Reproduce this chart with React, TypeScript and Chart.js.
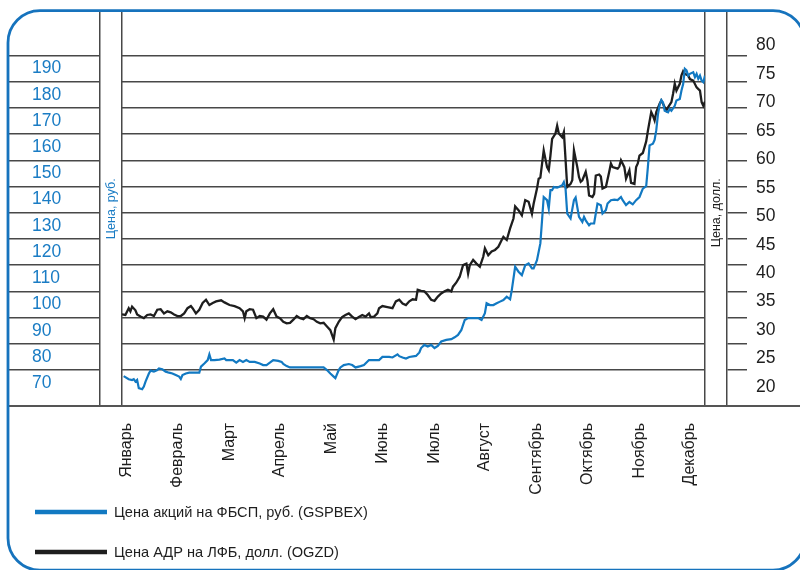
import React, { useEffect, useRef } from 'react';
import { Chart, registerables } from 'chart.js';

Chart.register(...registerables);

// ---------- data ----------
const months = ['Январь', 'Февраль', 'Март', 'Апрель', 'Май', 'Июнь', 'Июль', 'Август', 'Сентябрь', 'Октябрь', 'Ноябрь', 'Декабрь'];
// day-of-year at which each month label is placed
const monthTickDays = [3, 33, 64, 94, 125, 155, 186, 216, 247, 277, 308, 338];

const rubTicks = [190, 180, 170, 160, 150, 140, 130, 120, 110, 100, 90, 80, 70];
const usdTicks = [80, 75, 70, 65, 60, 55, 50, 45, 40, 35, 30, 25, 20];

const seriesLabels = ['Цена акций на ФБСП, руб. (GSPBEX)', 'Цена АДР на ЛФБ, долл. (OGZD)'];
const axisTitles = ['Цена, руб.', 'Цена, долл.'];

// GSPBEX, roubles
const gspbexDays = [1, 4, 6, 7, 8, 9, 10, 12, 13, 14, 16, 17, 19, 21, 22, 24, 26, 28, 30, 32, 34, 35, 36, 38, 40, 43, 46, 47, 49, 51, 52, 53, 55, 58, 61, 62, 66, 68, 70, 72, 74, 76, 79, 82, 84, 86, 88, 90, 93, 95, 96, 98, 100, 104, 112, 120, 122, 124, 126, 127, 129, 130, 132, 135, 137, 139, 142, 144, 147, 150, 153, 155, 159, 161, 164, 165, 167, 169, 171, 175, 177, 178, 180, 182, 184, 186, 188, 190, 193, 196, 198, 200, 202, 204, 206, 209, 212, 214, 216, 217, 219, 221, 223, 225, 227, 229, 231, 232, 234, 236, 238, 240, 242, 244, 245, 247, 249, 250, 251, 253, 254, 255, 256, 257, 259, 260, 262, 263, 264, 265, 267, 269, 270, 272, 274, 275, 276, 278, 279, 281, 282, 283, 285, 286, 288, 289, 291, 293, 295, 297, 298, 300, 302, 304, 306, 308, 310, 312, 313, 314, 316, 317, 318, 319, 320, 321, 322, 323, 325, 326, 327, 329, 330, 332, 333, 334, 335, 336, 337, 338, 340, 341, 342, 343, 344, 345, 346, 347];
const gspbexRub = [72.7, 71.5, 71.2, 71.5, 70.6, 71.2, 68.1, 67.7, 68.7, 70.6, 73.7, 74.8, 74.4, 75.0, 75.6, 75.3, 74.4, 74.0, 73.7, 73.1, 72.5, 71.6, 73.1, 73.7, 74.0, 74.0, 74.0, 76.3, 77.5, 78.8, 81.0, 78.8, 78.8, 79.0, 79.4, 78.8, 78.8, 77.8, 78.8, 78.1, 78.8, 78.1, 78.1, 77.5, 76.9, 76.9, 77.8, 78.8, 78.5, 78.1, 77.3, 76.5, 76.0, 76.0, 76.0, 76.0, 75.0, 73.7, 72.5, 71.9, 75.0, 76.0, 76.9, 77.3, 76.9, 76.0, 76.5, 76.9, 78.8, 78.8, 78.8, 80.0, 80.0, 79.8, 81.0, 80.3, 79.8, 79.4, 80.0, 80.4, 81.7, 83.4, 84.6, 84.0, 84.6, 83.4, 84.2, 85.9, 86.5, 86.8, 87.5, 88.4, 90.3, 94.1, 94.8, 94.8, 94.8, 94.1, 96.7, 100.5, 99.8, 99.8, 100.5, 101.1, 101.7, 103.0, 102.0, 105.5, 114.4, 112.5, 111.2, 115.0, 115.7, 113.8, 113.8, 116.9, 123.3, 132.1, 141.0, 139.8, 136.6, 143.6, 143.6, 144.8, 144.6, 144.8, 145.5, 146.7, 144.2, 134.7, 132.8, 139.8, 140.8, 133.4, 131.5, 133.4, 132.1, 130.2, 130.9, 130.9, 134.7, 138.5, 137.9, 134.7, 136.0, 138.5, 139.8, 140.0, 139.8, 141.0, 139.8, 137.9, 139.1, 138.2, 139.8, 141.0, 144.2, 145.1, 152.4, 160.7, 161.3, 162.8, 166.5, 172.5, 176.2, 178.0, 177.1, 173.9, 173.3, 174.6, 173.9, 175.8, 177.8, 178.4, 181.6, 184.1, 189.9, 189.3, 187.3, 188.0, 188.6, 186.7, 188.0, 186.1, 187.3, 185.4, 184.8, 187.3];

// OGZD, dollars
const ogzdDays = [0, 2, 4, 5, 6, 8, 9, 11, 13, 15, 17, 19, 21, 23, 25, 27, 29, 31, 33, 35, 37, 39, 41, 42, 44, 46, 48, 50, 52, 54, 56, 59, 61, 64, 67, 70, 72, 73, 74, 76, 78, 80, 82, 84, 86, 88, 90, 92, 94, 96, 98, 100, 102, 104, 106, 108, 110, 112, 114, 116, 118, 120, 122, 124, 125, 126, 127, 129, 131, 133, 135, 137, 139, 141, 143, 145, 147, 148, 150, 152, 153, 155, 158, 161, 163, 165, 167, 169, 171, 173, 175, 176, 178, 180, 182, 184, 186, 188, 190, 192, 194, 196, 197, 199, 201, 203, 205, 206, 207, 209, 211, 213, 215, 216, 218, 220, 222, 224, 226, 227, 229, 231, 233, 234, 236, 238, 240, 242, 244, 245, 247, 248, 249, 251, 253, 254, 255, 256, 258, 259, 260, 262, 263, 265, 267, 268, 269, 271, 272, 273, 274, 276, 277, 278, 280, 281, 282, 284, 285, 286, 288, 290, 291, 292, 295, 296, 297, 299, 300, 302, 303, 305, 306, 307, 308, 310, 312, 313, 315, 316, 317, 318, 320, 321, 322, 324, 325, 327, 328, 329, 330, 332, 333, 334, 335, 337, 338, 340, 342, 344, 345, 346, 347];
const ogzdUsd = [30.6, 30.5, 31.8, 31.2, 32.1, 31.4, 30.6, 30.2, 29.9, 30.5, 30.6, 30.3, 31.5, 31.6, 30.8, 31.2, 31.0, 30.6, 30.3, 30.3, 30.8, 31.8, 32.2, 31.8, 30.8, 31.5, 32.8, 33.4, 32.4, 32.8, 33.1, 33.3, 32.9, 32.4, 32.2, 31.8, 31.2, 29.9, 31.2, 31.6, 31.5, 29.9, 30.3, 30.2, 29.6, 30.8, 31.6, 30.2, 29.9, 29.2, 28.9, 29.0, 29.6, 30.3, 29.9, 29.7, 30.3, 29.9, 29.7, 29.2, 28.9, 29.0, 28.3, 27.6, 26.7, 25.8, 28.0, 29.2, 30.1, 30.5, 30.8, 30.2, 29.7, 30.1, 30.5, 30.2, 30.8, 30.1, 30.2, 30.8, 31.8, 32.2, 32.0, 31.8, 33.1, 33.4, 32.7, 32.4, 33.1, 33.5, 33.4, 35.3, 35.1, 35.0, 34.3, 33.4, 33.2, 34.0, 34.6, 35.0, 35.3, 35.0, 35.9, 36.7, 37.8, 40.0, 40.3, 38.4, 40.0, 41.0, 40.3, 39.7, 41.6, 43.2, 41.9, 42.6, 42.9, 43.5, 44.8, 45.4, 44.8, 47.0, 48.9, 51.2, 50.5, 49.5, 52.4, 52.1, 49.8, 51.7, 54.6, 56.5, 56.7, 61.9, 58.7, 58.1, 60.9, 64.1, 65.1, 66.6, 65.1, 64.4, 65.4, 54.9, 55.5, 56.2, 61.9, 58.7, 56.8, 55.9, 56.2, 57.8, 56.2, 53.3, 53.0, 53.6, 57.1, 57.3, 56.9, 54.6, 54.9, 57.8, 59.4, 58.7, 58.4, 58.8, 60.0, 58.7, 56.5, 58.1, 55.7, 55.5, 58.7, 59.4, 60.9, 61.4, 63.6, 65.6, 69.2, 68.5, 67.6, 69.2, 70.8, 71.4, 70.8, 69.5, 70.1, 71.1, 72.7, 74.6, 73.3, 74.6, 76.2, 77.0, 76.5, 76.2, 75.5, 75.2, 73.9, 73.3, 71.1, 70.4, 71.2];

// ---------- style ----------
const FONT = "'Liberation Sans', Arial, sans-serif";
const BLUE = '#1279c2';
const BLUE_TEXT = '#1a7cc4';
const FRAME = '#1673bd';
const DARK = '#1e1e1e';
const GRID = '#484848';

const alignPx = (v: number, w: number) => Math.round(v - w / 2) + w / 2;

const decor = {
  id: 'decor',
  afterDraw(chart: any) {
    const ctx = chart.ctx as CanvasRenderingContext2D;
    const area = chart.chartArea;
    const y1 = chart.scales.y1;
    const yl = chart.scales.y;
    const yT2 = chart.scales.yT2;
    ctx.save();
    // grid continuation in the left label column
    ctx.strokeStyle = GRID;
    ctx.lineWidth = 1.5;
    y1.ticks.forEach((t: any) => {
      const py = alignPx(y1.getPixelForValue(t.value), 1.5);
      ctx.beginPath();
      ctx.moveTo(8, py);
      ctx.lineTo(yl.right, py);
      ctx.stroke();
    });
    // full-width base line
    ctx.lineWidth = 2;
    ctx.strokeStyle = '#555';
    const by = alignPx(area.bottom, 2);
    ctx.beginPath();
    ctx.moveTo(8, by);
    ctx.lineTo(chart.width, by);
    ctx.stroke();
    // right axis title (reads bottom to top)
    ctx.save();
    ctx.translate(yT2.left + yT2.width / 2 + 1, (area.top + area.bottom) / 2 + 4);
    ctx.rotate(-Math.PI / 2);
    ctx.fillStyle = DARK;
    ctx.font = `12.5px ${FONT}`;
    ctx.textAlign = 'center';
    ctx.textBaseline = 'middle';
    ctx.fillText(axisTitles[1], 0, 0);
    ctx.restore();
    // legend
    const rows = [512, 552];
    chart.data.datasets.forEach((ds: any, i: number) => {
      const ly = rows[i];
      ctx.strokeStyle = ds.borderColor;
      ctx.lineWidth = 4.5;
      ctx.beginPath();
      ctx.moveTo(35, ly);
      ctx.lineTo(107, ly);
      ctx.stroke();
      ctx.fillStyle = DARK;
      ctx.font = `14.6px ${FONT}`;
      ctx.textAlign = 'left';
      ctx.textBaseline = 'middle';
      ctx.fillText(ds.label, 114, ly + 1);
    });
    // rounded frame
    ctx.strokeStyle = FRAME;
    ctx.lineWidth = 2.8;
    ctx.beginPath();
    (ctx as any).roundRect(8, 10.7, 797, 559.5, 32);
    ctx.stroke();
    ctx.restore();
  },
};

export default function App() {
  const ref = useRef<HTMLCanvasElement>(null);
  useEffect(() => {
    const tickFont = { family: FONT, size: 17.5 };
    const chart = new Chart(ref.current as HTMLCanvasElement, {
      type: 'line',
      data: {
        datasets: [
          {
            label: seriesLabels[0],
            data: gspbexDays.map((d, i) => ({ x: d, y: gspbexRub[i] })),
            borderColor: BLUE,
            borderWidth: 2.2,
            pointRadius: 0,
            tension: 0,
            yAxisID: 'y',
          },
          {
            label: seriesLabels[1],
            data: ogzdDays.map((d, i) => ({ x: d, y: ogzdUsd[i] })),
            borderColor: DARK,
            borderWidth: 2.3,
            pointRadius: 0,
            tension: 0,
            yAxisID: 'y1',
          },
        ],
      },
      options: {
        responsive: false,
        animation: false,
        devicePixelRatio: 1,
        events: [],
        layout: { padding: { left: 32, right: 0, top: 11, bottom: 0 } },
        plugins: { legend: { display: false }, tooltip: { enabled: false } },
        scales: {
          x: {
            type: 'linear',
            position: 'bottom',
            min: 0,
            max: 347,
            grid: { display: false },
            border: { display: false },
            afterBuildTicks: (s: any) => { s.ticks = monthTickDays.map((v) => ({ value: v })); },
            afterFit: (s: any) => { s.height = 164; },
            ticks: {
              autoSkip: false,
              minRotation: 90,
              maxRotation: 90,
              padding: 9,
              color: DARK,
              font: { family: FONT, size: 16 },
              callback: (_v: any, i: number) => months[i],
            },
          },
          y: {
            type: 'linear',
            position: 'left',
            weight: 1,
            min: 61.29,
            max: 211.76,
            grid: { display: false },
            border: { display: true, color: GRID, width: 1.5 },
            afterBuildTicks: (s: any) => { s.ticks = rubTicks.map((v) => ({ value: v })); },
            afterFit: (s: any) => { s.width = 68; },
            ticks: { crossAlign: 'far', padding: 0, color: BLUE_TEXT, font: tickFont },
          },
          yT: {
            type: 'linear',
            position: 'left',
            weight: 0,
            min: 0,
            max: 1,
            grid: { display: false },
            ticks: { display: false },
            border: { display: true, color: GRID, width: 1.5 },
            afterFit: (s: any) => { s.width = 22; },
            title: {
              display: true,
              text: axisTitles[0],
              color: BLUE_TEXT,
              font: { family: FONT, size: 12.5 },
              padding: { top: 4, bottom: 0 },
            },
          },
          yT2: {
            type: 'linear',
            position: 'right',
            weight: 0,
            min: 0,
            max: 1,
            grid: { display: false },
            ticks: { display: false },
            border: { display: true, color: GRID, width: 1.5 },
            afterFit: (s: any) => { s.width = 22; },
          },
          y1: {
            type: 'linear',
            position: 'right',
            weight: 1,
            min: 13.14,
            max: 88.38,
            grid: { display: true, drawOnChartArea: true, drawTicks: true, tickLength: 20, color: GRID, lineWidth: 1.5 },
            border: { display: true, color: GRID, width: 1.5 },
            afterBuildTicks: (s: any) => { s.ticks = usdTicks.map((v) => ({ value: v })); },
            afterFit: (s: any) => { s.width = 20; },
            ticks: { display: false },
          },
          yR: {
            type: 'linear',
            position: 'right',
            weight: 2,
            min: 16.67,
            max: 85.96,
            grid: { display: false },
            border: { display: false },
            afterBuildTicks: (s: any) => { s.ticks = usdTicks.map((v) => ({ value: v })); },
            afterFit: (s: any) => { s.width = 53; },
            ticks: { crossAlign: 'near', padding: 1, color: DARK, font: tickFont },
          },
        },
      },
      plugins: [decor],
    } as any);
    return () => chart.destroy();
  }, []);
  return (
    <div style={{ position: 'absolute', left: 0, top: 0, width: 800, height: 570, background: '#fff' }}>
      <canvas ref={ref} width={800} height={570} style={{ display: 'block' }} />
    </div>
  );
}
